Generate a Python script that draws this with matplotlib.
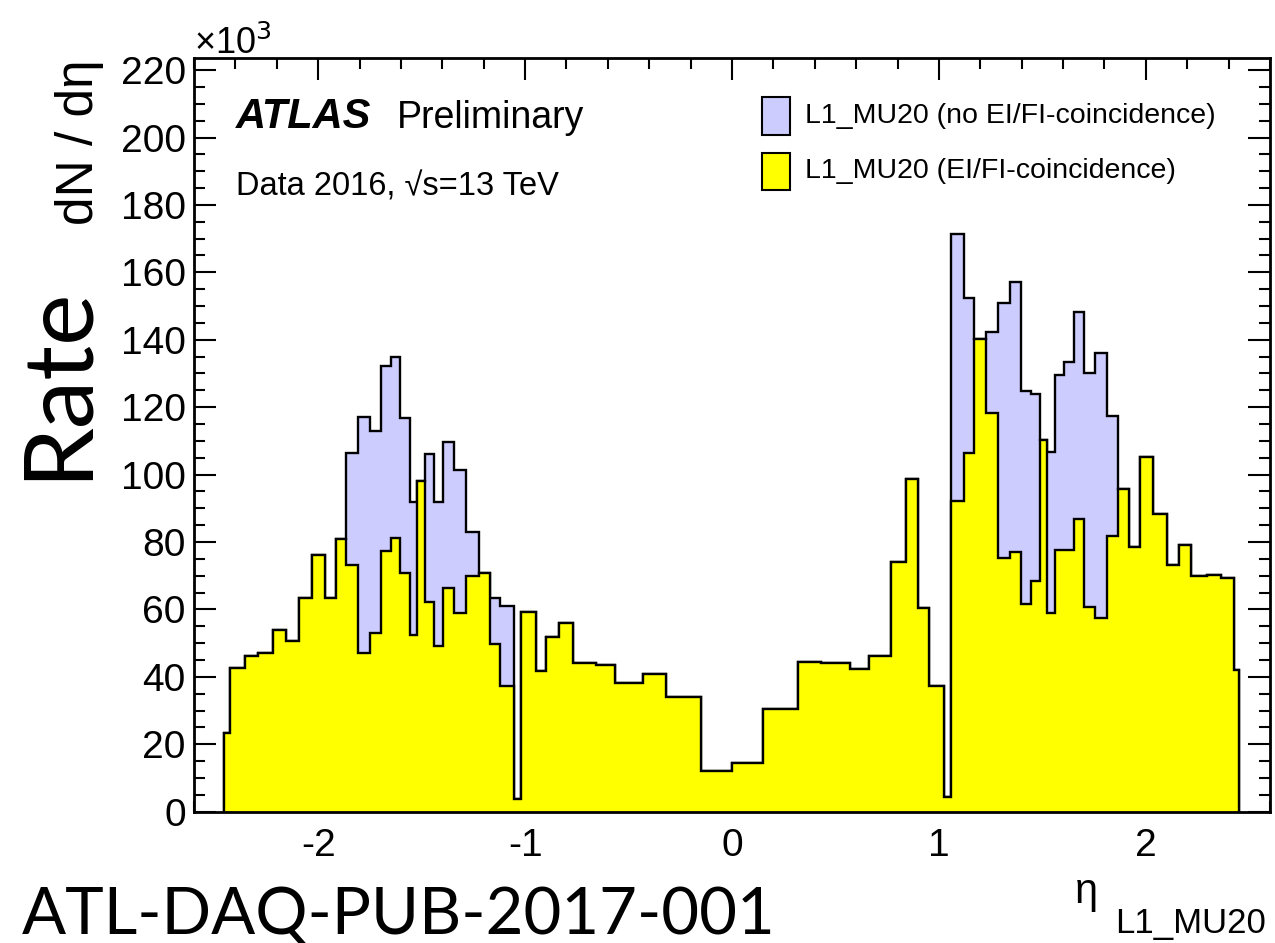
import matplotlib
matplotlib.use("Agg")
import matplotlib.pyplot as plt
from matplotlib.patches import Rectangle
from matplotlib.ticker import MultipleLocator

# ---------------- data (rate in units of 10^3) ----------------
bin_edges = [-2.455, -2.424, -2.355, -2.291, -2.218, -2.154, -2.093, -2.030, -1.969, -1.916,
             -1.864, -1.808, -1.751, -1.698, -1.646, -1.603, -1.558, -1.521, -1.484, -1.440,
             -1.397, -1.344, -1.284, -1.223, -1.168, -1.119, -1.055, -1.018, -0.947, -0.897,
             -0.838, -0.768, -0.655, -0.567, -0.430, -0.320, -0.148, 0.000, 0.150, 0.319,
             0.432, 0.572, 0.662, 0.770, 0.843, 0.899, 0.952, 1.025, 1.060, 1.121,
             1.170, 1.226, 1.286, 1.342, 1.399, 1.444, 1.487, 1.524, 1.563, 1.603,
             1.651, 1.700, 1.753, 1.810, 1.866, 1.917, 1.970, 2.035, 2.100, 2.159,
             2.220, 2.296, 2.361, 2.425, 2.450]

rate_ei_fi = [23.3, 42.5, 46.2, 47.2, 53.9, 50.7, 63.3, 76.1, 63.5, 80.9,
              73.2, 47.0, 52.9, 77.3, 81.3, 70.9, 52.4, 98.1, 62.3, 49.3,
              66.4, 58.8, 69.9, 70.9, 49.7, 37.3, 3.9, 59.2, 41.8, 51.7,
              55.9, 44.0, 43.5, 38.3, 40.8, 34.1, 12.2, 14.5, 30.6, 44.5,
              44.0, 42.4, 46.2, 74.0, 98.7, 60.5, 37.3, 4.5, 92.1, 106.4,
              140.3, 118.4, 75.2, 77.1, 61.7, 68.4, 110.2, 58.8, 77.7, 77.7,
              86.8, 60.7, 57.4, 81.7, 95.8, 78.5, 105.2, 88.2, 73.2, 79.2,
              69.8, 70.1, 69.2, 42.1]

rate_no_ei_fi = [23.3, 42.5, 46.2, 47.2, 53.9, 50.7, 63.3, 76.1, 63.5, 80.9,
                 106.3, 117.2, 113.0, 132.3, 134.8, 116.9, 91.8, 98.1, 106.1, 92.0,
                 109.6, 101.4, 82.9, 70.9, 63.5, 61.0, 3.9, 59.2, 41.8, 51.7,
                 55.9, 44.0, 43.5, 38.3, 40.8, 34.1, 12.2, 14.5, 30.6, 44.5,
                 44.0, 42.4, 46.2, 74.0, 98.7, 60.5, 37.3, 4.5, 171.4, 152.4,
                 140.3, 142.4, 150.9, 157.2, 124.7, 123.9, 110.2, 106.6, 129.5, 133.4,
                 148.2, 130.0, 136.0, 117.3, 95.8, 78.5, 105.2, 88.2, 73.2, 79.2,
                 69.8, 70.1, 69.2, 42.1]

legend_labels = ["L1_MU20 (no EI/FI-coincidence)", "L1_MU20 (EI/FI-coincidence)"]
colors = ["#ccccff", "#ffff00"]

# ---------------- figure ----------------
W, H = 1275, 943
fig = plt.figure(figsize=(W / 100, H / 100), dpi=100)
plt.rcParams['font.family'] = ['Liberation Sans', 'DejaVu Sans']

def fx(px):
    return px / W

def fy(py):
    return 1 - py / H

ax = fig.add_axes([fx(194), fy(811.7), fx(1270) - fx(194), fy(58.3) - fy(811.7)])

lw = 1.7
ax.stairs(rate_no_ei_fi, bin_edges, baseline=0, fill=True, facecolor=colors[0],
          edgecolor='none', zorder=1)
ax.stairs(rate_no_ei_fi, bin_edges, baseline=0, fill=False, edgecolor='black',
          linewidth=lw, zorder=2)
ax.stairs(rate_ei_fi, bin_edges, baseline=0, fill=True, facecolor=colors[1],
          edgecolor='none', zorder=3)
ax.stairs(rate_ei_fi, bin_edges, baseline=0, fill=False, edgecolor='black',
          linewidth=lw, zorder=4)

ax.set_xlim(-2.6, 2.6)
ax.set_ylim(0, 223.5)

ax.xaxis.set_major_locator(MultipleLocator(1))
ax.xaxis.set_minor_locator(MultipleLocator(0.2))
ax.yaxis.set_major_locator(MultipleLocator(20))
ax.yaxis.set_minor_locator(MultipleLocator(5))
ax.tick_params(which='both', direction='in', top=True, right=True, width=1.5,
               labelsize=28, zorder=10)
ax.tick_params(which='major', length=16)
ax.tick_params(which='minor', length=8)
ax.tick_params(axis='x', pad=12)
ax.tick_params(axis='y', pad=6)
ax.set_xticks([-2, -1, 0, 1, 2])
ax.set_xticklabels(['-2', '-1', '0', '1', '2'])
for s in ax.spines.values():
    s.set_linewidth(2)
    s.set_zorder(11)

# ---------------- texts ----------------
fig.text(fx(236), fy(128), "ATLAS", fontsize=30, fontweight='bold', style='italic',
         ha='left', va='baseline')
fig.text(fx(397), fy(128), "Preliminary", fontsize=27, ha='left', va='baseline')
fig.text(fx(236), fy(196), "Data 2016, √s=13 TeV", fontsize=23.5,
         ha='left', va='baseline')

# legend
box_y = [(97, 135), (153, 190)]
for (y0, y1), c, lab in zip(box_y, colors, legend_labels):
    fig.patches.append(Rectangle((fx(762), fy(y1)), fx(790) - fx(762), fy(y0) - fy(y1),
                                 transform=fig.transFigure, facecolor=c,
                                 edgecolor='black', linewidth=1.5))
    fig.text(fx(805), fy((y0 + y1) / 2), lab, fontsize=20.5, ha='left', va='center')

fig.text(fx(194), fy(54), "×10$^3$", fontsize=26, ha='left', va='baseline')

fig.text(fx(80), fy(142), "dN / dη", fontsize=37, rotation=90, ha='center', va='center')
fig.text(fx(58), fy(382), "Rate", fontsize=70, rotation=90, ha='center', va='center',
         family=['Lato', 'DejaVu Sans'])

fig.text(fx(1075), fy(903), "η", fontsize=30, ha='left', va='baseline')
fig.text(fx(1115), fy(933), "L1_MU20", fontsize=25, ha='left', va='baseline')

fig.text(fx(22), fy(934), "ATL-DAQ-PUB-2017-001", fontsize=47, ha='left', va='baseline',
         family=['Lato', 'DejaVu Sans'])

fig.savefig("out.png", dpi=100)
